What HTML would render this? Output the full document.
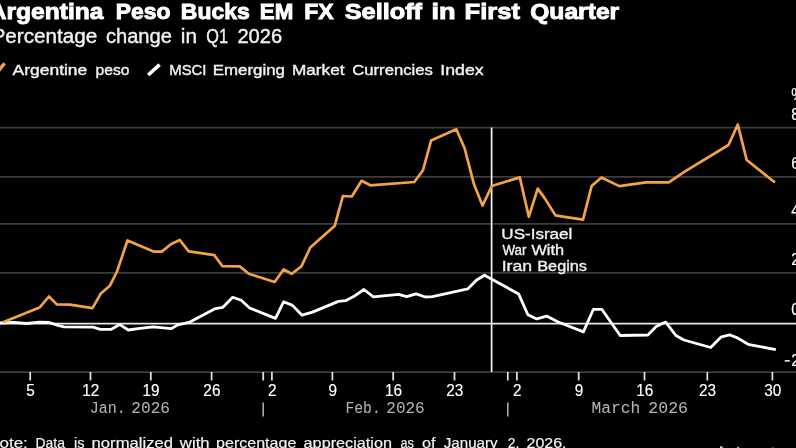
<!DOCTYPE html>
<html><head><meta charset="utf-8"><style>
html,body{margin:0;padding:0;background:#000;width:796px;height:448px;overflow:hidden;}
svg{display:block;will-change:transform;}
</style></head><body>
<svg width="796" height="448" viewBox="0 0 796 448">
<rect width="796" height="448" fill="#000"/>
<line x1="0" y1="127.7" x2="796" y2="127.7" stroke="#3c3c3c" stroke-width="1.7"/>
<line x1="0" y1="176.9" x2="796" y2="176.9" stroke="#3c3c3c" stroke-width="1.7"/>
<line x1="0" y1="223.9" x2="796" y2="223.9" stroke="#3c3c3c" stroke-width="1.7"/>
<line x1="0" y1="272.9" x2="796" y2="272.9" stroke="#3c3c3c" stroke-width="1.7"/>
<line x1="0" y1="372.1" x2="796" y2="372.1" stroke="#3e3e3e" stroke-width="1.7"/>
<line x1="30.2" y1="372" x2="30.2" y2="380.5" stroke="#dcdcdc" stroke-width="1.8"/>
<line x1="90.5" y1="372" x2="90.5" y2="380.5" stroke="#dcdcdc" stroke-width="1.8"/>
<line x1="150.8" y1="372" x2="150.8" y2="380.5" stroke="#dcdcdc" stroke-width="1.8"/>
<line x1="211.6" y1="372" x2="211.6" y2="380.5" stroke="#dcdcdc" stroke-width="1.8"/>
<line x1="271.9" y1="372" x2="271.9" y2="380.5" stroke="#dcdcdc" stroke-width="1.8"/>
<line x1="332.4" y1="372" x2="332.4" y2="380.5" stroke="#dcdcdc" stroke-width="1.8"/>
<line x1="393.2" y1="372" x2="393.2" y2="380.5" stroke="#dcdcdc" stroke-width="1.8"/>
<line x1="454.5" y1="372" x2="454.5" y2="380.5" stroke="#dcdcdc" stroke-width="1.8"/>
<line x1="516.9" y1="372" x2="516.9" y2="380.5" stroke="#dcdcdc" stroke-width="1.8"/>
<line x1="578.7" y1="372" x2="578.7" y2="380.5" stroke="#dcdcdc" stroke-width="1.8"/>
<line x1="644.5" y1="372" x2="644.5" y2="380.5" stroke="#dcdcdc" stroke-width="1.8"/>
<line x1="707.3" y1="372" x2="707.3" y2="380.5" stroke="#dcdcdc" stroke-width="1.8"/>
<line x1="772.4" y1="372" x2="772.4" y2="380.5" stroke="#dcdcdc" stroke-width="1.8"/>
<line x1="263.2" y1="372" x2="263.2" y2="380.5" stroke="#dcdcdc" stroke-width="1.8"/>
<line x1="507.8" y1="372" x2="507.8" y2="380.5" stroke="#dcdcdc" stroke-width="1.8"/>
<line x1="263.2" y1="402.4" x2="263.2" y2="416.5" stroke="#a8a8a8" stroke-width="1.6"/>
<line x1="507.8" y1="402.4" x2="507.8" y2="416.5" stroke="#a8a8a8" stroke-width="1.6"/>
<line x1="0" y1="323.6" x2="796" y2="323.6" stroke="#e8e8e8" stroke-width="1.7"/>
<line x1="491.6" y1="127.5" x2="491.6" y2="372" stroke="#f8f8f8" stroke-width="1.7"/>
<polyline points="0.0,323.0 13.4,322.3 26.8,323.5 39.5,322.1 48.5,322.4 58.0,325.3 64.0,326.9 93.2,327.1 100.2,329.3 111.3,329.3 119.8,324.6 128.3,330.0 140.0,328.4 153.2,326.8 171.2,328.7 177.7,324.9 189.0,322.4 215.4,308.6 222.9,307.3 232.7,297.3 241.2,300.3 249.6,308.0 275.5,318.4 283.6,301.8 292.5,305.4 302.0,315.2 312.5,312.1 338.4,301.4 345.5,300.7 353.6,296.6 363.9,289.5 373.4,296.8 398.6,294.3 406.6,296.6 416.0,293.9 425.4,297.0 432.5,296.6 467.7,288.9 476.6,280.0 484.6,275.2 491.8,279.3 518.6,293.9 527.9,314.8 536.8,318.9 546.6,316.1 558.2,322.0 583.4,331.9 593.4,309.3 601.8,309.3 620.2,335.5 647.9,335.0 656.2,326.6 665.7,322.1 675.9,335.5 683.9,340.0 710.7,347.5 720.8,337.2 729.4,334.8 737.4,337.9 748.1,344.3 775.8,349.7" fill="none" stroke="#ffffff" stroke-width="2.8" stroke-linejoin="round" stroke-linecap="butt"/>
<polyline points="3.0,322.3 39.5,307.6 48.9,296.5 56.8,304.4 70.0,304.6 92.5,308.1 100.6,293.8 109.8,285.8 117.0,271.5 127.5,240.5 153.5,251.6 161.8,251.6 170.8,244.3 179.8,240.0 188.7,251.4 214.3,255.1 222.5,266.2 239.8,266.4 248.8,273.8 274.6,282.0 283.6,269.5 291.8,273.8 301.4,266.4 310.3,247.5 334.8,225.7 342.9,196.0 351.8,196.5 361.6,180.8 370.3,185.3 414.3,182.0 423.0,170.2 431.1,140.6 456.3,129.2 464.6,148.2 474.0,184.3 482.5,205.6 491.8,186.0 519.8,177.4 528.8,216.8 537.7,188.6 544.8,198.4 555.5,215.4 564.5,216.8 583.0,219.6 591.6,186.1 601.4,177.5 619.3,186.1 646.1,182.3 668.8,182.3 682.1,173.4 687.5,169.8 728.5,145.0 737.8,124.6 746.7,160.0 775.0,182.5" fill="none" stroke="#f2a346" stroke-width="2.7" stroke-linejoin="round" stroke-linecap="butt"/>
<line x1="-2" y1="71.5" x2="4.6" y2="63.3" stroke="#f2a346" stroke-width="3.4"/>
<line x1="148.2" y1="75" x2="159.6" y2="64.6" stroke="#ffffff" stroke-width="3.6"/>
<rect x="720" y="446.3" width="2.6" height="1.7" fill="#d0d0d0"/>
<rect x="737" y="446.8" width="2.2" height="1.2" fill="#b0b0b0"/>
<rect x="771.5" y="447.2" width="2.6" height="0.8" fill="#505050"/>
<rect x="784.7" y="360.1" width="5.1" height="1.5" fill="#f4f4f4"/>
<text x="-10.91" y="18.9" font-family="Liberation Sans" font-size="21.8" font-weight="bold" fill="#ffffff" textLength="17.52" lengthAdjust="spacingAndGlyphs" stroke="#ffffff" stroke-width="0.9">A</text>
<text x="6.47" y="18.9" font-family="Liberation Sans" font-size="21.8" font-weight="bold" fill="#ffffff" textLength="96.94" lengthAdjust="spacingAndGlyphs" stroke="#ffffff" stroke-width="0.9">rgentina</text>
<text x="115.85" y="18.9" font-family="Liberation Sans" font-size="21.8" font-weight="bold" fill="#ffffff" textLength="54.68" lengthAdjust="spacingAndGlyphs" stroke="#ffffff" stroke-width="0.9">Peso</text>
<text x="180.85" y="18.9" font-family="Liberation Sans" font-size="21.8" font-weight="bold" fill="#ffffff" textLength="68.88" lengthAdjust="spacingAndGlyphs" stroke="#ffffff" stroke-width="0.9">Bucks</text>
<text x="259.78" y="18.9" font-family="Liberation Sans" font-size="21.8" font-weight="bold" fill="#ffffff" textLength="33.51" lengthAdjust="spacingAndGlyphs" stroke="#ffffff" stroke-width="0.9">EM</text>
<text x="304.15" y="18.9" font-family="Liberation Sans" font-size="21.8" font-weight="bold" fill="#ffffff" textLength="29.37" lengthAdjust="spacingAndGlyphs" stroke="#ffffff" stroke-width="0.9">FX</text>
<text x="344.70" y="18.9" font-family="Liberation Sans" font-size="21.8" font-weight="bold" fill="#ffffff" textLength="77.34" lengthAdjust="spacingAndGlyphs" stroke="#ffffff" stroke-width="0.9">Selloff</text>
<text x="431.56" y="18.9" font-family="Liberation Sans" font-size="21.8" font-weight="bold" fill="#ffffff" textLength="24.08" lengthAdjust="spacingAndGlyphs" stroke="#ffffff" stroke-width="0.9">in</text>
<text x="464.63" y="18.9" font-family="Liberation Sans" font-size="21.8" font-weight="bold" fill="#ffffff" textLength="55.38" lengthAdjust="spacingAndGlyphs" stroke="#ffffff" stroke-width="0.9">First</text>
<text x="530.20" y="18.9" font-family="Liberation Sans" font-size="21.8" font-weight="bold" fill="#ffffff" textLength="89.01" lengthAdjust="spacingAndGlyphs" stroke="#ffffff" stroke-width="0.9">Quarter</text>
<text x="-7.83" y="43.0" font-family="Liberation Sans" font-size="20.5" font-weight="normal" fill="#f2f2f2" textLength="13.07" lengthAdjust="spacingAndGlyphs" stroke="#f2f2f2" stroke-width="0.4">P</text>
<text x="5.30" y="43.0" font-family="Liberation Sans" font-size="20.5" font-weight="normal" fill="#f2f2f2" textLength="92.00" lengthAdjust="spacingAndGlyphs" stroke="#f2f2f2" stroke-width="0.4">ercentage</text>
<text x="105.90" y="43.0" font-family="Liberation Sans" font-size="20.5" font-weight="normal" fill="#f2f2f2" textLength="65.99" lengthAdjust="spacingAndGlyphs" stroke="#f2f2f2" stroke-width="0.4">change</text>
<text x="180.88" y="43.0" font-family="Liberation Sans" font-size="20.5" font-weight="normal" fill="#f2f2f2" textLength="16.22" lengthAdjust="spacingAndGlyphs" stroke="#f2f2f2" stroke-width="0.4">in</text>
<text x="206.30" y="43.0" font-family="Liberation Sans" font-size="20.5" font-weight="normal" fill="#f2f2f2" textLength="21.72" lengthAdjust="spacingAndGlyphs" stroke="#f2f2f2" stroke-width="0.4">Q1</text>
<text x="237.42" y="43.0" font-family="Liberation Sans" font-size="20.5" font-weight="normal" fill="#f2f2f2" textLength="44.67" lengthAdjust="spacingAndGlyphs" stroke="#f2f2f2" stroke-width="0.4">2026</text>
<text x="12.60" y="75.3" font-family="Liberation Sans" font-size="15.3" font-weight="normal" fill="#f2f2f2" textLength="74.68" lengthAdjust="spacingAndGlyphs" stroke="#f2f2f2" stroke-width="0.4">Argentine</text>
<text x="95.50" y="75.3" font-family="Liberation Sans" font-size="15.3" font-weight="normal" fill="#f2f2f2" textLength="33.92" lengthAdjust="spacingAndGlyphs" stroke="#f2f2f2" stroke-width="0.4">peso</text>
<text x="169.22" y="75.3" font-family="Liberation Sans" font-size="15.3" font-weight="normal" fill="#f2f2f2" textLength="37.29" lengthAdjust="spacingAndGlyphs" stroke="#f2f2f2" stroke-width="0.4">MSCI</text>
<text x="212.70" y="75.3" font-family="Liberation Sans" font-size="15.3" font-weight="normal" fill="#f2f2f2" textLength="72.26" lengthAdjust="spacingAndGlyphs" stroke="#f2f2f2" stroke-width="0.4">Emerging</text>
<text x="291.98" y="75.3" font-family="Liberation Sans" font-size="15.3" font-weight="normal" fill="#f2f2f2" textLength="52.48" lengthAdjust="spacingAndGlyphs" stroke="#f2f2f2" stroke-width="0.4">Market</text>
<text x="352.20" y="75.3" font-family="Liberation Sans" font-size="15.3" font-weight="normal" fill="#f2f2f2" textLength="80.72" lengthAdjust="spacingAndGlyphs" stroke="#f2f2f2" stroke-width="0.4">Currencies</text>
<text x="440.34" y="75.3" font-family="Liberation Sans" font-size="15.3" font-weight="normal" fill="#f2f2f2" textLength="43.25" lengthAdjust="spacingAndGlyphs" stroke="#f2f2f2" stroke-width="0.4">Index</text>
<text x="501.39" y="239.0" font-family="Liberation Sans" font-size="15.4" font-weight="normal" fill="#f2f2f2" textLength="70.97" lengthAdjust="spacingAndGlyphs" stroke="#f2f2f2" stroke-width="0.35">US-Israel</text>
<text x="502.50" y="255.1" font-family="Liberation Sans" font-size="15.4" font-weight="normal" fill="#f2f2f2" textLength="24.01" lengthAdjust="spacingAndGlyphs" stroke="#f2f2f2" stroke-width="0.35">War</text>
<text x="531.40" y="255.1" font-family="Liberation Sans" font-size="15.4" font-weight="normal" fill="#f2f2f2" textLength="32.69" lengthAdjust="spacingAndGlyphs" stroke="#f2f2f2" stroke-width="0.35">With</text>
<text x="501.65" y="270.9" font-family="Liberation Sans" font-size="15.4" font-weight="normal" fill="#f2f2f2" textLength="30.39" lengthAdjust="spacingAndGlyphs" stroke="#f2f2f2" stroke-width="0.35">Iran</text>
<text x="537.24" y="270.9" font-family="Liberation Sans" font-size="15.4" font-weight="normal" fill="#f2f2f2" textLength="49.73" lengthAdjust="spacingAndGlyphs" stroke="#f2f2f2" stroke-width="0.35">Begins</text>
<text x="89.78" y="413.4" font-family="Liberation Mono" font-size="16.3" font-weight="normal" fill="#b4b4b4" textLength="36.11" lengthAdjust="spacingAndGlyphs" stroke="#b4b4b4" stroke-width="0.05">Jan.</text>
<text x="131.31" y="413.4" font-family="Liberation Mono" font-size="16.3" font-weight="normal" fill="#b4b4b4" textLength="38.76" lengthAdjust="spacingAndGlyphs" stroke="#b4b4b4" stroke-width="0.05">2026</text>
<text x="345.50" y="413.4" font-family="Liberation Mono" font-size="16.3" font-weight="normal" fill="#b4b4b4" textLength="35.20" lengthAdjust="spacingAndGlyphs" stroke="#b4b4b4" stroke-width="0.05">Feb.</text>
<text x="386.32" y="413.4" font-family="Liberation Mono" font-size="16.3" font-weight="normal" fill="#b4b4b4" textLength="38.34" lengthAdjust="spacingAndGlyphs" stroke="#b4b4b4" stroke-width="0.05">2026</text>
<text x="591.60" y="413.4" font-family="Liberation Mono" font-size="16.3" font-weight="normal" fill="#b4b4b4" textLength="48.77" lengthAdjust="spacingAndGlyphs" stroke="#b4b4b4" stroke-width="0.05">March</text>
<text x="648.28" y="413.4" font-family="Liberation Mono" font-size="16.3" font-weight="normal" fill="#b4b4b4" textLength="39.80" lengthAdjust="spacingAndGlyphs" stroke="#b4b4b4" stroke-width="0.05">2026</text>
<text x="-12.45" y="447.9" font-family="Liberation Sans" font-size="15.5" font-weight="normal" fill="#f2f2f2" textLength="11.13" lengthAdjust="spacingAndGlyphs" stroke="#f2f2f2" stroke-width="0.2">N</text>
<text x="-0.50" y="447.9" font-family="Liberation Sans" font-size="15.5" font-weight="normal" fill="#f2f2f2" textLength="28.33" lengthAdjust="spacingAndGlyphs" stroke="#f2f2f2" stroke-width="0.2">ote:</text>
<text x="35.50" y="447.9" font-family="Liberation Sans" font-size="15.5" font-weight="normal" fill="#f2f2f2" textLength="29.46" lengthAdjust="spacingAndGlyphs" stroke="#f2f2f2" stroke-width="0.2">Data</text>
<text x="74.06" y="447.9" font-family="Liberation Sans" font-size="15.5" font-weight="normal" fill="#f2f2f2" textLength="10.50" lengthAdjust="spacingAndGlyphs" stroke="#f2f2f2" stroke-width="0.2">is</text>
<text x="91.63" y="447.9" font-family="Liberation Sans" font-size="15.5" font-weight="normal" fill="#f2f2f2" textLength="81.34" lengthAdjust="spacingAndGlyphs" stroke="#f2f2f2" stroke-width="0.2">normalized</text>
<text x="179.88" y="447.9" font-family="Liberation Sans" font-size="15.5" font-weight="normal" fill="#f2f2f2" textLength="29.69" lengthAdjust="spacingAndGlyphs" stroke="#f2f2f2" stroke-width="0.2">with</text>
<text x="216.06" y="447.9" font-family="Liberation Sans" font-size="15.5" font-weight="normal" fill="#f2f2f2" textLength="80.28" lengthAdjust="spacingAndGlyphs" stroke="#f2f2f2" stroke-width="0.2">percentage</text>
<text x="303.60" y="447.9" font-family="Liberation Sans" font-size="15.5" font-weight="normal" fill="#f2f2f2" textLength="88.45" lengthAdjust="spacingAndGlyphs" stroke="#f2f2f2" stroke-width="0.2">appreciation</text>
<text x="400.40" y="447.9" font-family="Liberation Sans" font-size="15.5" font-weight="normal" fill="#f2f2f2" textLength="13.40" lengthAdjust="spacingAndGlyphs" stroke="#f2f2f2" stroke-width="0.2">as</text>
<text x="421.90" y="447.9" font-family="Liberation Sans" font-size="15.5" font-weight="normal" fill="#f2f2f2" textLength="13.57" lengthAdjust="spacingAndGlyphs" stroke="#f2f2f2" stroke-width="0.2">of</text>
<text x="443.80" y="447.9" font-family="Liberation Sans" font-size="15.5" font-weight="normal" fill="#f2f2f2" textLength="53.76" lengthAdjust="spacingAndGlyphs" stroke="#f2f2f2" stroke-width="0.2">January</text>
<text x="507.70" y="447.9" font-family="Liberation Sans" font-size="15.5" font-weight="normal" fill="#f2f2f2" textLength="11.57" lengthAdjust="spacingAndGlyphs" stroke="#f2f2f2" stroke-width="0.2">2,</text>
<text x="526.60" y="447.9" font-family="Liberation Sans" font-size="15.5" font-weight="normal" fill="#f2f2f2" textLength="39.95" lengthAdjust="spacingAndGlyphs" stroke="#f2f2f2" stroke-width="0.2">2026.</text>
<text transform="translate(791.3,100.4) scale(0.93,1)" font-family="Liberation Sans" font-size="16.5" fill="#ffffff" stroke="#ffffff" stroke-width="0.15" text-anchor="start">%</text>
<text transform="translate(791.3,120.3) scale(0.93,1)" font-family="Liberation Sans" font-size="16.5" fill="#ffffff" stroke="#ffffff" stroke-width="0.15" text-anchor="start">8</text>
<text transform="translate(791.3,168.9) scale(0.93,1)" font-family="Liberation Sans" font-size="16.5" fill="#ffffff" stroke="#ffffff" stroke-width="0.15" text-anchor="start">6</text>
<text transform="translate(791.3,215.8) scale(0.93,1)" font-family="Liberation Sans" font-size="16.5" fill="#ffffff" stroke="#ffffff" stroke-width="0.15" text-anchor="start">4</text>
<text transform="translate(791.3,265.0) scale(0.93,1)" font-family="Liberation Sans" font-size="16.5" fill="#ffffff" stroke="#ffffff" stroke-width="0.15" text-anchor="start">2</text>
<text transform="translate(791.3,315.4) scale(0.93,1)" font-family="Liberation Sans" font-size="16.5" fill="#ffffff" stroke="#ffffff" stroke-width="0.15" text-anchor="start">0</text>
<text transform="translate(791.3,365.9) scale(0.93,1)" font-family="Liberation Sans" font-size="16.5" fill="#ffffff" stroke="#ffffff" stroke-width="0.15" text-anchor="start">2</text>
<text transform="translate(30.5,395.7) scale(0.93,1)" font-family="Liberation Sans" font-size="16.5" fill="#ffffff" stroke="#ffffff" stroke-width="0.15" text-anchor="middle">5</text>
<text transform="translate(90.8,395.7) scale(0.93,1)" font-family="Liberation Sans" font-size="16.5" fill="#ffffff" stroke="#ffffff" stroke-width="0.15" text-anchor="middle">12</text>
<text transform="translate(151.10000000000002,395.7) scale(0.93,1)" font-family="Liberation Sans" font-size="16.5" fill="#ffffff" stroke="#ffffff" stroke-width="0.15" text-anchor="middle">19</text>
<text transform="translate(211.9,395.7) scale(0.93,1)" font-family="Liberation Sans" font-size="16.5" fill="#ffffff" stroke="#ffffff" stroke-width="0.15" text-anchor="middle">26</text>
<text transform="translate(272.2,395.7) scale(0.93,1)" font-family="Liberation Sans" font-size="16.5" fill="#ffffff" stroke="#ffffff" stroke-width="0.15" text-anchor="middle">2</text>
<text transform="translate(332.7,395.7) scale(0.93,1)" font-family="Liberation Sans" font-size="16.5" fill="#ffffff" stroke="#ffffff" stroke-width="0.15" text-anchor="middle">9</text>
<text transform="translate(393.5,395.7) scale(0.93,1)" font-family="Liberation Sans" font-size="16.5" fill="#ffffff" stroke="#ffffff" stroke-width="0.15" text-anchor="middle">16</text>
<text transform="translate(454.8,395.7) scale(0.93,1)" font-family="Liberation Sans" font-size="16.5" fill="#ffffff" stroke="#ffffff" stroke-width="0.15" text-anchor="middle">23</text>
<text transform="translate(517.1999999999999,395.7) scale(0.93,1)" font-family="Liberation Sans" font-size="16.5" fill="#ffffff" stroke="#ffffff" stroke-width="0.15" text-anchor="middle">2</text>
<text transform="translate(579.0,395.7) scale(0.93,1)" font-family="Liberation Sans" font-size="16.5" fill="#ffffff" stroke="#ffffff" stroke-width="0.15" text-anchor="middle">9</text>
<text transform="translate(644.8,395.7) scale(0.93,1)" font-family="Liberation Sans" font-size="16.5" fill="#ffffff" stroke="#ffffff" stroke-width="0.15" text-anchor="middle">16</text>
<text transform="translate(707.5999999999999,395.7) scale(0.93,1)" font-family="Liberation Sans" font-size="16.5" fill="#ffffff" stroke="#ffffff" stroke-width="0.15" text-anchor="middle">23</text>
<text transform="translate(772.6999999999999,395.7) scale(0.93,1)" font-family="Liberation Sans" font-size="16.5" fill="#ffffff" stroke="#ffffff" stroke-width="0.15" text-anchor="middle">30</text>
</svg>
</body></html>
